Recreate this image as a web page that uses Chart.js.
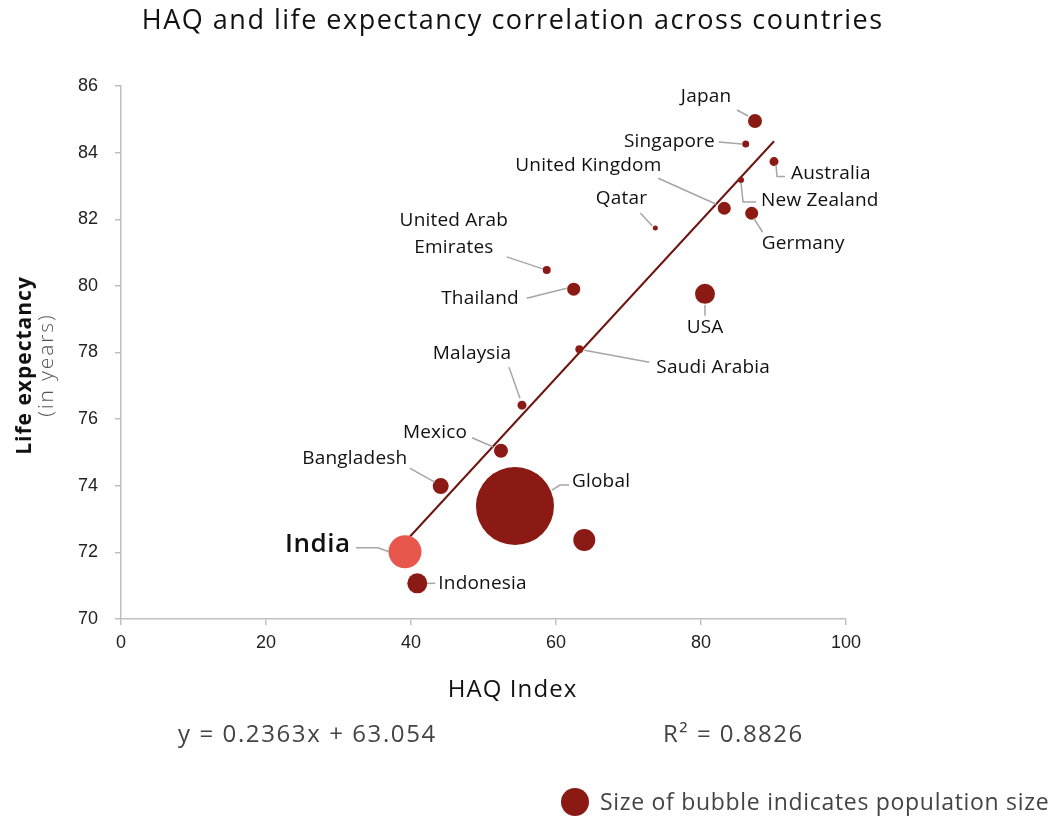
<!DOCTYPE html>
<html>
<head>
<meta charset="utf-8">
<script src="https://cdn.jsdelivr.net/npm/chart.js@4/dist/chart.umd.min.js"></script>
<style>
  html, body { margin: 0; padding: 0; background: #fff; }
  #wrap { width: 1054px; height: 819px; }
</style>
</head>
<body>
<div id="wrap"><canvas id="myChart" width="1054" height="819"></canvas></div>
<script>
// données
const countries = ['Japan', 'Singapore', 'Australia', 'New Zealand', 'United Kingdom', 'Germany', 'Qatar',
  'United Arab Emirates', 'Thailand', 'USA', 'Saudi Arabia', 'Malaysia', 'Mexico', 'Bangladesh',
  'Global', 'China', 'India', 'Indonesia'];
const haq = [87.45, 86.17, 90.07, 85.52, 83.21, 86.99, 73.7, 58.72, 62.44, 80.55, 63.22, 55.31, 52.41, 44.1,
  54.34, 63.9, 39.17, 40.87];
const lifeExp = [84.95, 84.26, 83.73, 83.18, 82.33, 82.18, 81.74, 80.48, 79.9, 79.76, 78.1, 76.42, 75.05, 73.99,
  73.39, 72.37, 72.02, 71.07];
const popSize = [7, 3.5, 4.5, 3, 6.5, 6.5, 2.5, 4, 6.5, 10, 4, 4.5, 7, 8, 39, 11, 16.5, 10];
// courbe de tendance (extrémités)
const trendHaq = [39.17, 90.07];
const trendLife = [72.31, 84.34];

const mainRed = '#8b1a14';
const indiaRed = '#e8574c';
const labelFont = '"Open Sans", sans-serif';

// placement des étiquettes, relatif au centre de la bulle (px)
const labelLayout = {
  'Japan': { dx: -49, dy: -24, align: 'center', line: [[-18, -11], [-7, -5]] },
  'Singapore': { dx: -31, dy: -2, align: 'right', line: [[-27, -2], [-4, 0]] },
  'Australia': { dx: 17, dy: 12, align: 'left', line: [[2, 3], [3, 15], [11, 15]] },
  'New Zealand': { dx: 20, dy: 21, align: 'left', line: [[0, 3], [2, 22], [15, 22]] },
  'United Kingdom': { dx: -136, dy: -43, align: 'center', line: [[-66, -30], [-8, -4]] },
  'Germany': { dx: 10, dy: 30, align: 'left', line: [[2, 5], [11, 19]] },
  'Qatar': { dx: -34, dy: -29, align: 'center', line: [[-15, -15], [-3, -2]] },
  'United Arab Emirates': { dx: -93, dy: -49, align: 'center', text: ['United Arab', 'Emirates'], line: [[-40, -13], [-4, -1]] },
  'Thailand': { dx: -55, dy: 9, align: 'right', line: [[-47, 9], [-7, -1]] },
  'USA': { dx: 0, dy: 34, align: 'center', line: [[0, 11], [0, 22]] },
  'Saudi Arabia': { dx: 77, dy: 18, align: 'left', line: [[5, 1], [70, 13]] },
  'Malaysia': { dx: -50, dy: -52, align: 'center', line: [[-13, -38], [-2, -7]] },
  'Mexico': { dx: -66, dy: -18, align: 'center', line: [[-29, -13], [-8, -4]] },
  'Bangladesh': { dx: -86, dy: -27, align: 'center', line: [[-31, -18], [-6, -4]] },
  'Global': { dx: 57, dy: -24, align: 'left', line: [[37, -16], [45, -21], [54, -21]] },
  'India': { dx: -55, dy: -7, align: 'right', big: true, line: [[-49, -4], [-27, -4], [-16, 0]] },
  'Indonesia': { dx: 21, dy: 0, align: 'left', line: [[10, 0], [18, 0]] }
};

function spacedText(ctx, txt, x, y, spacing) {
  ctx.letterSpacing = spacing + 'px';
  let w = 0;
  if (ctx.textAlign === 'center') w = spacing / 2;
  else if (ctx.textAlign === 'right') w = spacing;
  ctx.fillText(txt, x + w, y);
  ctx.letterSpacing = '0px';
}

const bubbleLabels = {
  id: 'bubbleLabels',
  afterDatasetsDraw(chart) {
    const ctx = chart.ctx;
    const meta = chart.getDatasetMeta(0);
    ctx.save();
    meta.data.forEach((pt, i) => {
      const lay = labelLayout[countries[i]];
      if (!lay) return;
      const cx = pt.x, cy = pt.y;
      ctx.strokeStyle = '#a6a6a6';
      ctx.lineWidth = 1.5;
      ctx.beginPath();
      lay.line.forEach((p, k) => {
        if (k === 0) ctx.moveTo(cx + p[0], cy + p[1]);
        else ctx.lineTo(cx + p[0], cy + p[1]);
      });
      ctx.stroke();
      ctx.fillStyle = '#111';
      ctx.textAlign = lay.align;
      ctx.textBaseline = 'middle';
      ctx.font = lay.big ? '600 26px ' + labelFont : '19px ' + labelFont;
      const lines = lay.text || [countries[i]];
      lines.forEach((t, k) => {
        spacedText(ctx, t, cx + lay.dx, cy + lay.dy + k * 27, lay.big ? 0.5 : 0.2);
      });
    });
    ctx.restore();
  }
};

const extraText = {
  id: 'extraText',
  afterDraw(chart) {
    const ctx = chart.ctx;
    ctx.save();
    ctx.textBaseline = 'middle';
    // titre
    ctx.fillStyle = '#111';
    ctx.textAlign = 'center';
    ctx.font = '27px ' + labelFont;
    spacedText(ctx, 'HAQ and life expectancy correlation across countries', 512, 21, 1.5);
    // titre axe x
    ctx.font = '24px ' + labelFont;
    spacedText(ctx, 'HAQ Index', 512, 690, 1.1);
    // titre axe y
    ctx.save();
    ctx.translate(25, 366);
    ctx.rotate(-Math.PI / 2);
    ctx.font = 'bold 21px ' + labelFont;
    ctx.fillStyle = '#111';
    spacedText(ctx, 'Life expectancy', 0, 0, 1);
    ctx.font = '300 21px ' + labelFont;
    ctx.fillStyle = '#555';
    spacedText(ctx, '(in years)', 0, 22, 1.9);
    ctx.restore();
    // équation
    ctx.fillStyle = '#444';
    ctx.font = '24px ' + labelFont;
    ctx.textAlign = 'left';
    spacedText(ctx, 'y = 0.2363x + 63.054', 178, 735, 1.6);
    spacedText(ctx, 'R² = 0.8826', 663, 735, 1.5);
    // légende
    ctx.fillStyle = mainRed;
    ctx.beginPath();
    ctx.arc(575, 802, 14, 0, Math.PI * 2);
    ctx.fill();
    ctx.fillStyle = '#444';
    ctx.font = '23px ' + labelFont;
    spacedText(ctx, 'Size of bubble indicates population size', 600, 803, 0.7);
    ctx.restore();
  }
};

const chart = new Chart(
  document.getElementById('myChart'),
  {
    type: 'bubble',
    data: {
      datasets: [
        {
          label: 'countries',
          data: countries.map((c, i) => ({ x: haq[i], y: lifeExp[i], r: popSize[i] })),
          backgroundColor: countries.map(c => c === 'India' ? indiaRed : mainRed),
          borderWidth: 0,
          hoverRadius: 0,
          order: 1
        },
        {
          type: 'line',
          label: 'trend',
          data: trendHaq.map((x, i) => ({ x: x, y: trendLife[i] })),
          borderColor: '#6e1510',
          borderWidth: 2,
          pointRadius: 0,
          fill: false,
          order: 2
        }
      ]
    },
    options: {
      responsive: false,
      animation: false,
      layout: { padding: { top: 86, right: 208, bottom: 120, left: 0 } },
      plugins: {
        legend: { display: false },
        tooltip: { enabled: false }
      },
      scales: {
        x: {
          type: 'linear',
          min: 0, max: 100,
          afterFit(scale) { scale.height = 80; },
          grid: { drawOnChartArea: false, drawTicks: true, tickLength: 6, color: '#bfbfbf', lineWidth: 1.5 },
          border: { color: '#bfbfbf', width: 1.5 },
          ticks: {
            stepSize: 20,
            padding: 7,
            color: '#222',
            font: { size: 18, family: '"Liberation Sans Narrow", "Liberation Sans", Arial' }
          }
        },
        y: {
          type: 'linear',
          min: 70, max: 86,
          afterFit(scale) { scale.width = 121; },
          grid: { drawOnChartArea: false, drawTicks: true, tickLength: 6, color: '#bfbfbf', lineWidth: 1.5 },
          border: { color: '#bfbfbf', width: 1.5 },
          ticks: {
            stepSize: 2,
            padding: 17,
            color: '#222',
            font: { size: 18, family: '"Liberation Sans Narrow", "Liberation Sans", Arial' }
          }
        }
      }
    },
    plugins: [bubbleLabels, extraText]
  }
);
</script>
</body>
</html>
